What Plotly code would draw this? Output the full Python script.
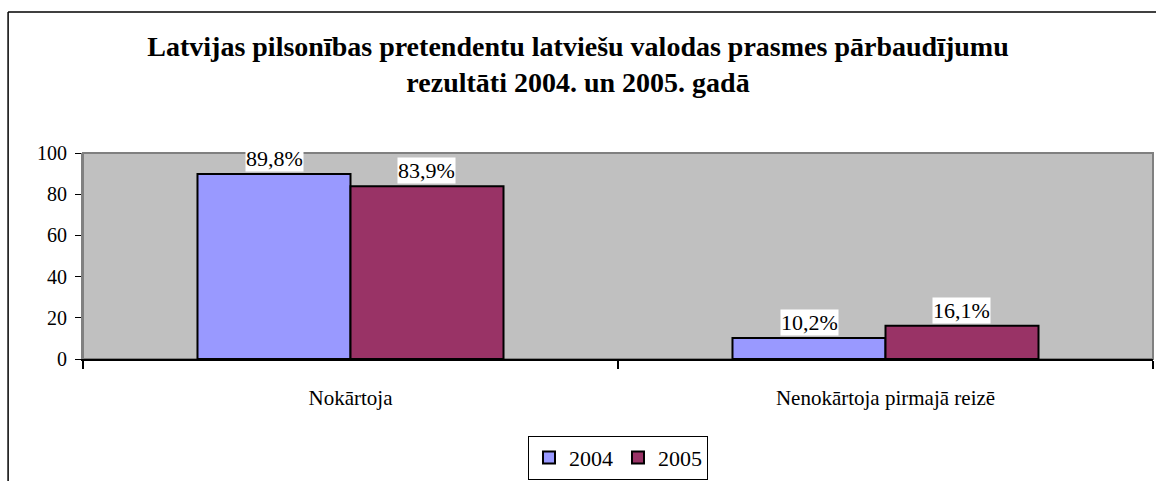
import plotly.graph_objs as go

categories = ["Nokārtoja", "Nenokārtoja pirmajā reizē"]
years = ["2004", "2005"]
values_2004 = [89.8, 10.2]
values_2005 = [83.9, 16.1]
labels_2004 = ["89,8%", "10,2%"]
labels_2005 = ["83,9%", "16,1%"]
y_ticks = [0, 20, 40, 60, 80, 100]

FONT = "'Liberation Serif', 'Times New Roman', Times, serif"
colors = {"2004": "#9999FF", "2005": "#993366"}

fig = go.Figure()
for year, vals in zip(years, [values_2004, values_2005]):
    fig.add_trace(go.Bar(x=categories, y=vals, name=year,
                         marker=dict(color=colors[year], line=dict(color="black", width=2))))

# value labels with white boxes, like excel data labels
for vals, labs, shift in [(values_2004, labels_2004, -76), (values_2005, labels_2005, 76)]:
    for c, v, t in zip(categories, vals, labs):
        fig.add_annotation(x=c, y=v, text=t, showarrow=False, xshift=shift, yshift=2,
                           yanchor="bottom", bgcolor="white", borderpad=0,
                           font=dict(family=FONT, size=22, color="black"))

fig.update_layout(
    width=1156, height=481,
    margin=dict(l=83, r=3, t=153, b=122, autoexpand=False),
    paper_bgcolor="white", plot_bgcolor="#C0C0C0",
    barmode="group", bargap=0.428, bargroupgap=0,
    font=dict(family=FONT, size=20, color="black"),
    title=dict(text="<b>Latvijas pilsonības pretendentu latviešu valodas prasmes pārbaudījumu<br>rezultāti 2004. un 2005. gadā</b>",
               x=0.5, xanchor="center", y=0.884, yanchor="middle",
               font=dict(family=FONT, size=28, color="black")),
    legend=dict(orientation="h", x=0.5, xanchor="center", y=-0.372, yanchor="top",
                bordercolor="black", borderwidth=1, bgcolor="white",
                font=dict(family=FONT, size=22), itemwidth=30, traceorder="normal"),
    showlegend=True,
)
fig.update_xaxes(showline=True, linecolor="black", linewidth=2, ticks="outside",
                 ticklen=8, tickcolor="black", tickwidth=2, tickson="boundaries",
                 showgrid=False, mirror=False, ticklabelstandoff=19, automargin=False,
                 tickfont=dict(family=FONT, size=21))
fig.update_yaxes(range=[0, 100], tickvals=y_ticks, showline=True, linecolor="#808080",
                 linewidth=2, ticks="outside", tickcolor="black", ticklen=6,
                 ticklabelstandoff=4, showgrid=False, zeroline=False, automargin=False,
                 tickfont=dict(family=FONT, size=20))

# plot area border and chart frame
fig.add_shape(type="rect", xref="paper", yref="paper", x0=0, x1=1, y0=0, y1=1,
              line=dict(color="#808080", width=2), layer="below")
fig.add_shape(type="line", xref="paper", yref="paper", x0=-0.07, x1=1.01, y0=1.684, y1=1.684,
              line=dict(color="black", width=1.5))
fig.add_shape(type="line", xref="paper", yref="paper", x0=-0.07, x1=-0.07, y0=1.684, y1=-0.6,
              line=dict(color="black", width=1.5))

fig.write_html("out.html", config={"displayModeBar": False},
               post_script="document.body.style.margin='0';")
